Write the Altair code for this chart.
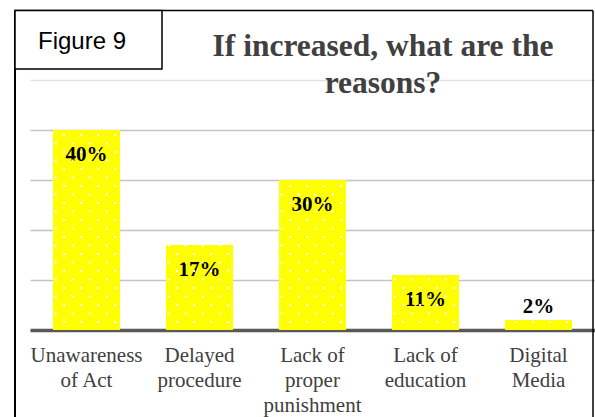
import altair as alt
import pandas as pd

categories = [
    "Unawareness\nof Act",
    "Delayed\nprocedure",
    "Lack of\nproper\npunishment",
    "Lack of\neducation",
    "Digital\nMedia",
]
values = [40, 17, 30, 11, 2]
labels = ["40%", "17%", "30%", "11%", "2%"]
y_ticks = [0, 10, 20, 30, 40, 50]
title_lines = ["If increased, what are the", "reasons?"]
figure_label = "Figure 9"

df = pd.DataFrame({"category": categories, "value": values, "label": labels})

SERIF = "Liberation Serif"
W, H = 565, 250
P_IN, P_OUT = 0.407, 0.2035

x_enc = alt.X(
    "category:N",
    sort=categories,
    scale=alt.Scale(paddingInner=P_IN, paddingOuter=P_OUT),
    axis=alt.Axis(
        title=None,
        labelAngle=0,
        labelExpr="split(datum.value, '\\n')",
        labelFont=SERIF,
        labelFontSize=21,
        labelColor="#404040",
        labelLineHeight=25,
        labelBaseline="top",
        labelPadding=14,
        ticks=False,
        tickSize=0,
        domainColor="#595959",
        domainWidth=3.5,
        grid=False,
    ),
)
y_scale = alt.Scale(domain=[0, 50], nice=False)

base = alt.Chart(df)

bars = base.mark_bar(color="#ffff00").encode(
    x=x_enc,
    y=alt.Y(
        "value:Q",
        scale=y_scale,
        axis=alt.Axis(
            title=None,
            values=y_ticks,
            labels=False,
            ticks=False,
            domain=False,
            grid=True,
            gridColor={"condition": {"test": "datum.value === 50", "value": "#e2e2e2"}, "value": "#c4c4c4"},
            gridWidth=1.5,
        ),
    ),
)

lab_in = (
    base.transform_filter("datum.value >= 5")
    .mark_text(font=SERIF, fontSize=21, fontWeight="bold", color="black", baseline="alphabetic", dy=31)
    .encode(x=alt.X("category:N", sort=categories), y=alt.Y("value:Q", scale=y_scale), text="label:N")
)
lab_out = (
    base.transform_filter("datum.value < 5")
    .mark_text(font=SERIF, fontSize=21, fontWeight="bold", color="black", baseline="alphabetic", dy=-7)
    .encode(x=alt.X("category:N", sort=categories), y=alt.Y("value:Q", scale=y_scale), text="label:N")
)

# dotted texture inside bars (styling pattern), placed in band-step units
cat_list = "[" + ",".join("'" + c.replace("\n", "\\n") + "'" for c in categories) + "]"
dots = (
    base.transform_calculate(idx=f"indexof({cat_list}, datum.category)", rows="sequence(0, 30)")
    .transform_flatten(["rows"], as_=["row"])
    .transform_calculate(cols="sequence(0, 8)")
    .transform_flatten(["cols"], as_=["col"])
    .transform_filter("(datum.row + datum.col) % 2 == 1")
    .transform_calculate(
        dy="1.6 + 1.7 * datum.row",
        xs=f"datum.idx + {P_OUT} + (2.7 + 8.5 * datum.col) / 113",
    )
    .transform_filter("datum.dy < datum.value")
    .mark_square(color="white", size=4, opacity=1)
    .encode(
        x=alt.X("xs:Q", scale=alt.Scale(domain=[0, len(categories)], nice=False, zero=False), axis=None),
        y=alt.Y("dy:Q", scale=y_scale, title=None),
    )
)

one = alt.Data(values=[{}])
frame_top = alt.Chart(one).mark_rule(color="black", strokeWidth=1.5).encode(
    x=alt.value(-15), x2=alt.value(563), y=alt.value(-69.5), y2=alt.value(-69.5)
)
frame_left = alt.Chart(one).mark_rule(color="black", strokeWidth=2).encode(
    x=alt.value(-15), x2=alt.value(-15), y=alt.value(-69.5), y2=alt.value(340)
)
frame_right = alt.Chart(one).mark_rule(color="black", strokeWidth=1.5).encode(
    x=alt.value(563), x2=alt.value(563), y=alt.value(-69.5), y2=alt.value(340)
)
fig_box = alt.Chart(one).mark_rect(fill="white", stroke="black", strokeWidth=1.5).encode(
    x=alt.value(-15), x2=alt.value(132), y=alt.value(-69.5), y2=alt.value(-11)
)
fig_text = alt.Chart(one).mark_text(
    font="Liberation Sans", fontSize=24, color="black", align="center", baseline="alphabetic"
).encode(x=alt.value(52), y=alt.value(-31.5), text=alt.value(figure_label))

title_text = alt.Chart(one).mark_text(
    font=SERIF, fontSize=31.5, fontWeight="bold", color="#404040", align="center",
    baseline="alphabetic", lineHeight=37,
).encode(x=alt.value(353), y=alt.value(-24), text=alt.value(title_lines))

main = alt.layer(bars, lab_in, lab_out)
deco = alt.layer(frame_top, frame_left, frame_right, fig_box, fig_text, title_text)

chart = (
    alt.layer(main, dots, deco)
    .resolve_scale(x="independent")
    .properties(
        width=W,
        height=H,
        autosize=alt.AutoSizeParams(type="none"),
        padding={"left": 30, "top": 80, "right": 0, "bottom": 87},
        background="white",
    )
    .configure_view(stroke=None)
)

chart.save("out.html", embed_options={"renderer": "svg", "actions": False})
